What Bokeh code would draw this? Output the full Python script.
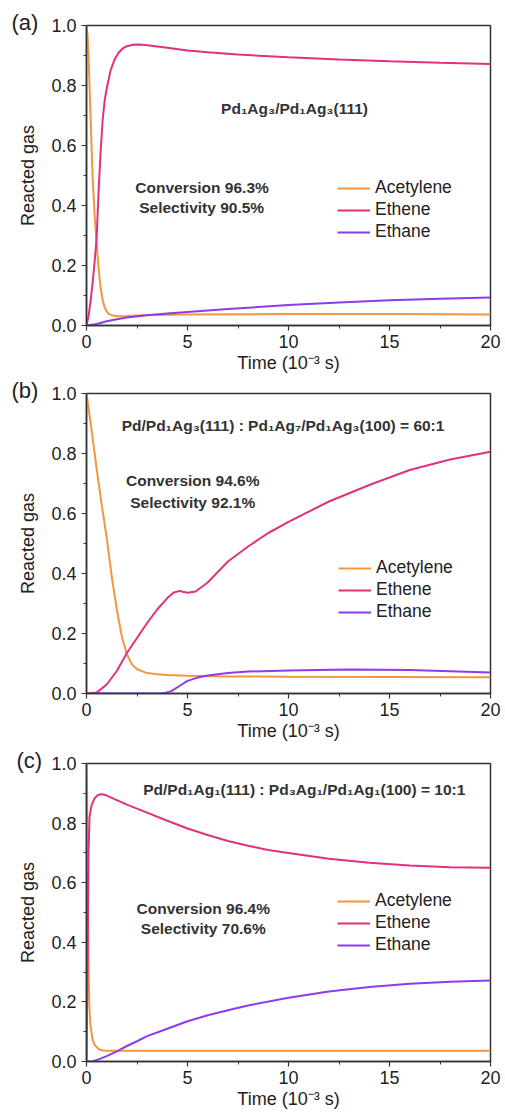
from bokeh.plotting import figure
from bokeh.layouts import column
from bokeh.models import Range1d, FixedTicker, Label, Legend, LegendItem, CustomJSTickFormatter, Title
from bokeh.embed import file_html
from bokeh.resources import INLINE

# ---------------- data ----------------
series_names = ["Acetylene", "Ethene", "Ethane"]
x_ticks = [0, 5, 10, 15, 20]
x_minor = [2.5, 7.5, 12.5, 17.5]
y_ticks = [0.0, 0.2, 0.4, 0.6, 0.8, 1.0]
y_minor = [0.1, 0.3, 0.5, 0.7, 0.9]

# panel (a)
a_acet_t = [0, 0.05, 0.1, 0.15, 0.2, 0.3, 0.4, 0.49, 0.6, 0.7, 0.8, 0.9, 1.0, 1.1, 1.3, 1.6, 2, 3, 5, 10, 15, 20]
a_acet = [1.0, 0.97, 0.9, 0.8, 0.7, 0.5, 0.37, 0.283, 0.19, 0.125, 0.085, 0.06, 0.047, 0.039, 0.033, 0.031, 0.032, 0.035, 0.037, 0.038, 0.038, 0.037]
a_ethe_t = [0, 0.1, 0.2, 0.3, 0.4, 0.5, 0.6, 0.7, 0.8, 0.9, 1.0, 1.2, 1.4, 1.6, 1.8, 2.0, 2.3, 2.6, 3.0, 3.5, 4, 5, 6, 7.5, 10, 12.5, 15, 17.5, 20]
a_ethe = [0, 0.03, 0.08, 0.14, 0.21, 0.29, 0.45, 0.58, 0.685, 0.75, 0.79, 0.852, 0.888, 0.91, 0.924, 0.931, 0.936, 0.937, 0.934, 0.93, 0.926, 0.917, 0.911, 0.903, 0.894, 0.887, 0.881, 0.876, 0.872]
a_etha_t = [0, 0.5, 1, 1.5, 2, 3, 4, 5, 7, 10, 12.5, 15, 17.5, 20]
a_etha = [0, 0.005, 0.014, 0.021, 0.027, 0.034, 0.04, 0.045, 0.055, 0.068, 0.077, 0.084, 0.089, 0.093]

# panel (b)
b_acet_t = [0, 0.25, 0.5, 0.75, 1.0, 1.25, 1.5, 1.75, 2.0, 2.25, 2.5, 3, 3.5, 4, 5, 7, 10, 15, 20]
b_acet = [1.0, 0.88, 0.75, 0.63, 0.52, 0.39, 0.28, 0.19, 0.13, 0.097, 0.081, 0.068, 0.064, 0.062, 0.059, 0.057, 0.056, 0.055, 0.054]
b_ethe_t = [0, 0.5, 1.0, 1.5, 2, 2.5, 3, 3.5, 4, 4.3, 4.6, 5, 5.4, 6, 7, 8, 9, 10, 12, 14, 16, 18, 20]
b_ethe = [0, 0.003, 0.03, 0.075, 0.135, 0.185, 0.235, 0.28, 0.318, 0.336, 0.342, 0.336, 0.34, 0.37, 0.44, 0.49, 0.535, 0.572, 0.64, 0.695, 0.745, 0.78, 0.806]
b_etha_t = [0, 3.8, 4.2, 4.6, 5, 5.5, 6, 7, 8, 10, 13, 16, 18, 20]
b_etha = [0, 0, 0.008, 0.025, 0.042, 0.053, 0.06, 0.068, 0.073, 0.077, 0.08, 0.078, 0.074, 0.07]

# panel (c)
c_acet_t = [0, 0.03, 0.06, 0.1, 0.15, 0.2, 0.3, 0.4, 0.6, 0.8, 1.2, 5, 10, 20]
c_acet = [1.0, 0.9, 0.6, 0.3, 0.17, 0.12, 0.075, 0.055, 0.042, 0.037, 0.036, 0.036, 0.036, 0.036]
c_ethe_t = [0, 0.05, 0.1, 0.15, 0.25, 0.4, 0.55, 0.7, 0.85, 1.0, 1.5, 2, 3, 4, 5, 6, 7, 8, 9, 10, 12, 14, 16, 18, 20]
c_ethe = [0, 0.3, 0.7, 0.82, 0.86, 0.883, 0.894, 0.897, 0.896, 0.892, 0.877, 0.862, 0.835, 0.808, 0.782, 0.76, 0.74, 0.724, 0.71, 0.70, 0.68, 0.667, 0.658, 0.652, 0.65]
c_etha_t = [0, 0.3, 0.6, 1.0, 1.5, 2, 2.5, 3, 4, 5, 6, 7, 8, 10, 12, 14, 16, 18, 20]
c_etha = [0, 0.001, 0.007, 0.018, 0.034, 0.052, 0.068, 0.085, 0.11, 0.135, 0.155, 0.172, 0.188, 0.214, 0.235, 0.25, 0.261, 0.268, 0.272]

panel_tags = ["(a)", "(b)", "(c)"]
titles = ["Pd₁Ag₃/Pd₁Ag₃(111)",
          "Pd/Pd₁Ag₃(111) : Pd₁Ag₇/Pd₁Ag₃(100) = 60:1",
          "Pd/Pd₁Ag₁(111) : Pd₃Ag₁/Pd₁Ag₁(100) = 10:1"]
conversions = ["Conversion 96.3%", "Conversion 94.6%", "Conversion 96.4%"]
selectivities = ["Selectivity 90.5%", "Selectivity 92.1%", "Selectivity 70.6%"]

colors = ["#F4953F", "#E2317C", "#8B3DEB"]
FONT = "Liberation Sans"

layouts = [
    dict(h=378, l=86, r=12, t=25, b=53, off=-75, title=(10.3, 0.723), conv=(5.72, 0.46), sel=(5.7, 0.393), leg=(251, 83)),
    dict(h=370, l=86, r=12, t=15, b=55, off=-75, title=(9.73, 0.893), conv=(5.26, 0.71), sel=(5.26, 0.637), leg=(252, 71)),
    dict(h=366, l=82, r=15, t=15, b=53, off=-70, title=(10.78, 0.914), conv=(5.78, 0.512), sel=(5.78, 0.445), leg=(251, 106)),
]

data = [
    [(a_acet_t, a_acet), (a_ethe_t, a_ethe), (a_etha_t, a_etha)],
    [(b_acet_t, b_acet), (b_ethe_t, b_ethe), (b_etha_t, b_etha)],
    [(c_acet_t, c_acet), (c_ethe_t, c_ethe), (c_etha_t, c_etha)],
]

figs = []
for i in range(3):
    L = layouts[i]
    p = figure(width=505, height=L["h"], output_backend="svg", toolbar_location=None,
               x_range=Range1d(0, 20), y_range=Range1d(0, 1.0),
               min_border_left=L["l"], min_border_right=L["r"],
               min_border_top=L["t"], min_border_bottom=L["b"])
    p.background_fill_color = "white"
    p.border_fill_color = "white"
    p.outline_line_color = "#333333"
    p.outline_line_width = 1.5
    p.xgrid.visible = False
    p.ygrid.visible = False

    p.xaxis.ticker = FixedTicker(ticks=x_ticks, minor_ticks=x_minor)
    p.yaxis.ticker = FixedTicker(ticks=y_ticks, minor_ticks=y_minor)
    p.yaxis.formatter = CustomJSTickFormatter(code="return tick.toFixed(1);")
    for ax in (p.xaxis, p.yaxis):
        ax.axis_line_color = "#333333"
        ax.axis_line_width = 1.5
        ax.major_tick_line_color = "#333333"
        ax.minor_tick_line_color = "#333333"
        ax.major_tick_line_width = 1.2
        ax.minor_tick_line_width = 1.0
        ax.major_tick_out = 5
        ax.major_tick_in = 0
        ax.minor_tick_out = 3
        ax.minor_tick_in = 0
        ax.major_label_text_font = FONT
        ax.major_label_text_font_size = "18px"
        ax.major_label_text_color = "#222222"
        ax.axis_label_text_font = FONT
        ax.axis_label_text_font_size = "18px"
        ax.axis_label_text_font_style = "normal"
        ax.axis_label_text_color = "#222222"
    p.xaxis.major_label_standoff = 4
    p.xaxis.axis_label_standoff = 2
    p.yaxis.major_label_standoff = 5
    p.yaxis.axis_label_standoff = 10
    p.xaxis.axis_label = "Time (10⁻³ s)"
    p.yaxis.axis_label = "Reacted gas"

    items = []
    for k in range(3):
        tt, vv = data[i][k]
        r = p.line(tt, vv, line_color=colors[k], line_width=2)
        items.append(LegendItem(label=series_names[k], renderers=[r]))

    leg = Legend(items=items, location=L["leg"], padding=0, margin=0, spacing=1,
                 glyph_width=33, glyph_height=20, label_height=20, label_standoff=5,
                 label_text_font=FONT, label_text_font_size="17.5px", label_text_color="#222222",
                 border_line_color=None, background_fill_alpha=0)
    p.add_layout(leg)

    for txt, pos in ((titles[i], L["title"]), (conversions[i], L["conv"]), (selectivities[i], L["sel"])):
        p.add_layout(Label(x=pos[0], y=pos[1], text=txt, text_align="center", text_baseline="middle",
                           text_font=FONT, text_font_size="15.5px", text_font_style="bold",
                           text_color="#333333"))
    p.add_layout(Title(text=panel_tags[i], align="left", offset=L["off"], standoff=-19,
                       text_font=FONT, text_font_size="22px", text_font_style="normal",
                       text_color="#222222"), "above")
    figs.append(p)

layout = column(*figs, spacing=0)
open("out.html", "w").write(file_html(layout, INLINE))
